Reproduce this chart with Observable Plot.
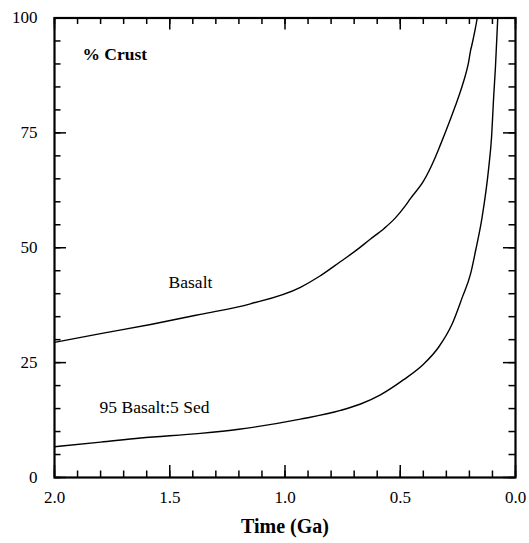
<!DOCTYPE html>
<html>
<head>
<meta charset="utf-8">
<script src="https://cdn.jsdelivr.net/npm/d3@7"></script>
<script src="https://cdn.jsdelivr.net/npm/@observablehq/plot@0.6"></script>
<style>
  html, body { margin: 0; padding: 0; background: #fff; }
  #chart svg { display: block; }
  #chart svg text { font-family: "Liberation Serif", "Times New Roman", serif; }
</style>
</head>
<body>
<div id="chart"></div>
<script>
// Basalt curve
const basaltTime = [2.0, 1.8, 1.583, 1.367, 1.15, 0.933, 0.85, 0.759, 0.70, 0.629, 0.57, 0.521, 0.48, 0.456, 0.398, 0.354, 0.325, 0.282, 0.26, 0.239, 0.224, 0.205, 0.195, 0.188, 0.175, 0.166];
const basaltPct  = [29.4, 31.3, 33.3, 35.5, 37.8, 41.4, 43.8, 47.0, 49.1, 51.9, 54.2, 56.5, 59.0, 60.7, 64.6, 69.0, 72.5, 78.0, 81.0, 84.0, 86.4, 90.0, 92.9, 94.4, 97.5, 100];
// 95 Basalt : 5 Sed curve
const sedTime = [2.0, 1.8, 1.627, 1.367, 1.2, 0.933, 0.759, 0.672, 0.586, 0.485, 0.398, 0.333, 0.275, 0.231, 0.195, 0.173, 0.145, 0.116, 0.104, 0.094, 0.087, 0.077];
const sedPct  = [6.7, 7.7, 8.6, 9.6, 10.5, 12.7, 14.6, 16.0, 18.0, 21.3, 24.7, 28.4, 33.4, 39.2, 44.3, 49.4, 56.6, 67.5, 74.0, 83.5, 89.3, 100];

// Ticks and labels
const xMajorTicks = [2.0, 1.5, 1.0, 0.5, 0.0];
const xMinorTicks = d3.range(0, 21).map(i => i / 10);
const yMajorTicks = [0, 25, 50, 75, 100];
const yMinorTicks = d3.range(0, 21).map(i => i * 5);
const xLabel = "Time (Ga)";
const panelTitle = ["% Crust"];
const curveLabels = [
  {t: 1.41, v: 42.4, text: "Basalt"},
  {t: 1.566, v: 15.3, text: "95 Basalt:5 Sed"}
];
const titlePos = {t: 1.879, v: 92.1};

const basalt = basaltTime.map((t, i) => ({t, v: basaltPct[i]}));
const sed = sedTime.map((t, i) => ({t, v: sedPct[i]}));

const W = 529, H = 543;
const mL = 54, mR = 14, mT = 17.5, mB = 66;
const fw = W - mL - mR, fh = H - mT - mB;
const major = 12, minor = 6.5;
const font = "Liberation Serif";

const chart = Plot.plot({
  width: W,
  height: H,
  marginLeft: mL,
  marginRight: mR,
  marginTop: mT,
  marginBottom: mB,
  style: {fontFamily: font, background: "#fff", color: "#000"},
  x: {domain: [2, 0]},
  y: {domain: [0, 100]},
  marks: [
    // inner ticks: bottom / top
    Plot.tickX(xMinorTicks, {x: d => d, insetTop: fh - minor, stroke: "#000", strokeWidth: 1.5}),
    Plot.tickX(xMajorTicks, {x: d => d, insetTop: fh - major, stroke: "#000", strokeWidth: 1.5}),
    Plot.tickX(xMinorTicks, {x: d => d, insetBottom: fh - minor, stroke: "#000", strokeWidth: 1.5}),
    Plot.tickX(xMajorTicks, {x: d => d, insetBottom: fh - major, stroke: "#000", strokeWidth: 1.5}),
    // inner ticks: left / right
    Plot.tickY(yMinorTicks, {y: d => d, insetRight: fw - minor, stroke: "#000", strokeWidth: 1.5}),
    Plot.tickY(yMajorTicks, {y: d => d, insetRight: fw - major, stroke: "#000", strokeWidth: 1.5}),
    Plot.tickY(yMinorTicks, {y: d => d, insetLeft: fw - minor, stroke: "#000", strokeWidth: 1.5}),
    Plot.tickY(yMajorTicks, {y: d => d, insetLeft: fw - major, stroke: "#000", strokeWidth: 1.5}),
    Plot.axisX({ticks: xMajorTicks, tickSize: 0, tickPadding: 13, tickFormat: d3.format(".1f"), fontSize: 17, fontFamily: font, label: null}),
    Plot.axisY({ticks: yMajorTicks, tickSize: 0, tickPadding: 17, fontSize: 17, fontFamily: font, label: null}),
    Plot.line(basalt, {x: "t", y: "v", stroke: "#000", strokeWidth: 1.4, curve: "monotone-x"}),
    Plot.line(sed, {x: "t", y: "v", stroke: "#000", strokeWidth: 1.4, curve: "monotone-x"}),
    Plot.text(curveLabels, {x: "t", y: "v", text: "text", fontSize: 17.5, fontFamily: font, fill: "#000"}),
    Plot.text(panelTitle, {x: () => titlePos.t, y: () => titlePos.v, text: d => d, fontSize: 17.5, fontFamily: font, fontWeight: "bold", textAnchor: "start", fill: "#000"}),
    Plot.text([xLabel], {frameAnchor: "bottom", text: d => d, dy: 55, fontSize: 20, fontFamily: font, fontWeight: "bold", fill: "#000"}),
    Plot.frame({stroke: "#000", strokeWidth: 2.2})
  ]
});
document.getElementById("chart").appendChild(chart);
</script>
</body>
</html>
